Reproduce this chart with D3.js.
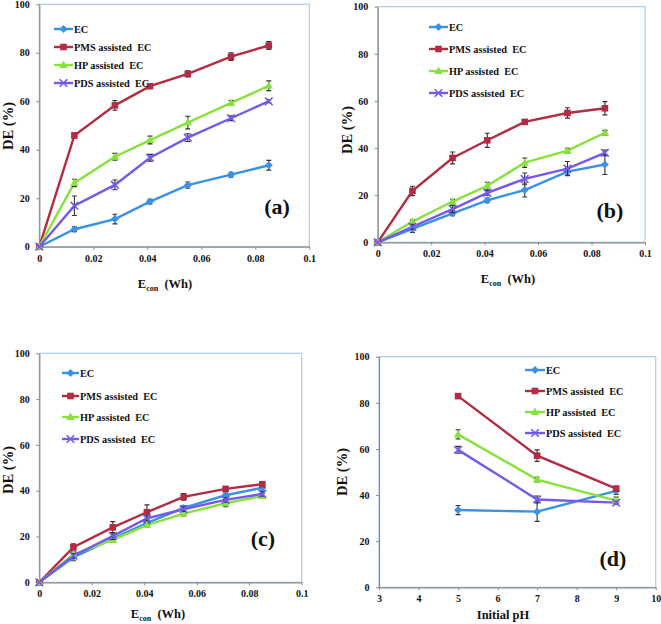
<!DOCTYPE html>
<html><head><meta charset="utf-8">
<script src="https://cdn.jsdelivr.net/npm/d3@7"></script>
<style>body{margin:0;background:#fff}svg{display:block}text{font-family:"Liberation Serif","Times New Roman",serif;font-weight:bold;fill:#111}</style>
</head><body><svg id="c" width="661" height="624"></svg>
<script>
const seriesNames = ["EC", "PMS assisted  EC", "HP assisted  EC", "PDS assisted  EC"];
const colors = ["#3a92e6", "#b22c44", "#88e23c", "#7459ee"];
const xEnergy = [0, 0.013, 0.028, 0.041, 0.055, 0.071, 0.085];
const xPH = [5, 7, 9];
const energyTicks = [0, 0.02, 0.04, 0.06, 0.08, 0.1];
const energyTickLabels = ["0", "0.02", "0.04", "0.06", "0.08", "0.1"];
const phTicks = [3, 4, 5, 6, 7, 8, 9, 10];
const deTicks = [0, 20, 40, 60, 80, 100];

// panel (a)
const aEC  = [0, 7.2, 11.4, 18.6, 25.4, 29.7, 33.6];
const aPMS = [0, 45.9, 58.3, 66.2, 71.3, 78.4, 83.0];
const aHP  = [0, 26.3, 37.1, 44.0, 51.2, 59.3, 66.4];
const aPDS = [0, 16.9, 25.5, 36.7, 45.0, 53.0, 60.0];
const aECe  = [0, 1.0, 2.0, 1.0, 1.3, 1.0, 2.0];
const aPMSe = [0, 1.0, 2.0, 0.6, 1.3, 1.6, 1.6];
const aHPe  = [0, 1.5, 1.4, 1.6, 2.6, 1.0, 2.0];
const aPDSe = [0, 4.0, 2.0, 1.4, 1.6, 1.0, 0.6];
// panel (b)
const bEC  = [0, 5.7, 12.3, 17.8, 22.2, 30.0, 33.0];
const bPMS = [0, 21.8, 35.8, 43.3, 51.1, 54.9, 56.9];
const bHP  = [0, 8.8, 17.3, 24.0, 33.8, 38.9, 46.5];
const bPDS = [0, 6.6, 14.1, 21.0, 26.9, 31.3, 38.0];
const bECe  = [0, 1.5, 1.0, 1.0, 3.0, 1.5, 4.2];
const bPMSe = [0, 2.0, 2.5, 3.0, 1.0, 2.2, 2.8];
const bHPe  = [0, 0.6, 1.0, 1.5, 2.0, 1.0, 1.0];
const bPDSe = [0, 1.0, 1.5, 1.0, 2.5, 3.0, 1.2];
// panel (c)
const cEC  = [0, 10.9, 19.1, 25.8, 32.5, 38.0, 41.3];
const cPMS = [0, 15.3, 24.0, 30.6, 37.3, 40.8, 42.8];
const cHP  = [0, 12.2, 18.5, 25.0, 30.0, 34.5, 37.7];
const cPDS = [0, 11.6, 20.2, 27.9, 31.9, 36.0, 38.6];
const cECe  = [0, 1.5, 1.0, 1.0, 1.0, 1.0, 1.0];
const cPMSe = [0, 1.5, 2.5, 3.2, 1.5, 1.0, 0.6];
const cHPe  = [0, 1.0, 1.0, 1.0, 1.0, 1.5, 1.0];
const cPDSe = [0, 1.0, 1.5, 1.0, 1.0, 1.0, 1.0];
// panel (d)
const dEC  = [33.5, 32.8, 41.8];
const dPMS = [82.9, 57.1, 42.8];
const dHP  = [66.3, 46.7, 37.6];
const dPDS = [59.6, 38.1, 36.7];
const dECe  = [2.0, 4.2, 1.5];
const dPMSe = [0.6, 2.5, 1.0];
const dHPe  = [2.0, 1.0, 1.5];
const dPDSe = [1.5, 1.5, 0.6];

const svg = d3.select("#c");
const markers = ["diamond", "square", "triangle", "x"];

function drawMarker(g, type, x, y, color) {
  if (type === "diamond") g.append("path").attr("d", `M${x},${y-4}L${x+4},${y}L${x},${y+4}L${x-4},${y}Z`).attr("fill", color);
  else if (type === "square") g.append("rect").attr("x", x-3.3).attr("y", y-3.3).attr("width", 6.6).attr("height", 6.6).attr("fill", color);
  else if (type === "triangle") g.append("path").attr("d", `M${x},${y-4.5}L${x+4.2},${y+3}L${x-4.2},${y+3}Z`).attr("fill", color);
  else g.append("path").attr("d", `M${x-3.8},${y-3.8}L${x+3.8},${y+3.8}M${x-3.8},${y+3.8}L${x+3.8},${y-3.8}`).attr("stroke", color).attr("stroke-width", 1.6);
}

function panel(cfg) {
  const g = svg.append("g");
  const x = d3.scaleLinear().domain(cfg.xDomain).range([cfg.x0, cfg.x1]);
  const y = d3.scaleLinear().domain([0, 100]).range([cfg.y0, cfg.y1]);
  // frame
  g.append("rect").attr("x", cfg.x0).attr("y", cfg.y1).attr("width", cfg.x1 - cfg.x0).attr("height", cfg.y0 - cfg.y1)
    .attr("fill", "none").attr("stroke", "#a9cbea").attr("stroke-width", 1.2);
  // axes
  const xa = g.append("g").attr("transform", `translate(0,${cfg.y0})`)
    .call(d3.axisBottom(x).tickValues(cfg.xTicks).tickFormat((d, i) => cfg.xLabels[i]).tickSize(3).tickSizeOuter(0));
  const ya = g.append("g").attr("transform", `translate(${cfg.x0},0)`)
    .call(d3.axisLeft(y).tickValues(deTicks).tickSize(3).tickSizeOuter(0));
  [xa, ya].forEach(a => {
    a.select(".domain").attr("stroke", "#8a8a8a").attr("stroke-width", 1.2);
    a.selectAll(".tick line").attr("stroke", "#8a8a8a");
    a.selectAll(".tick text").attr("font-size", 10).attr("fill", "#111").attr("font-family", "Liberation Serif").attr("font-weight", "bold");
  });
  xa.selectAll(".tick text").attr("dy", "0.9em");
  ya.selectAll(".tick text").attr("dx", "-0.35em");
  // series
  cfg.series.forEach((s, i) => {
    const line = d3.line().x((d, j) => x(cfg.xs[j])).y(d => y(d.v));
    g.append("path").datum(s).attr("d", line).attr("fill", "none").attr("stroke", colors[i]).attr("stroke-width", 2.4);
  });
  cfg.series.forEach((s, i) => {
    s.forEach((p, j) => {
      const v = p.v, e = p.e;
      if (e > 0) {
        const xx = x(cfg.xs[j]);
        g.append("path").attr("d", `M${xx},${y(v+e)}V${y(v-e)}M${xx-2.5},${y(v+e)}H${xx+2.5}M${xx-2.5},${y(v-e)}H${xx+2.5}`)
          .attr("stroke", "#333").attr("stroke-width", 1.1).attr("fill", "none");
      }
    });
    s.forEach((p, j) => drawMarker(g, markers[i], x(cfg.xs[j]), y(p.v), colors[i]));
  });
  // legend
  seriesNames.forEach((n, i) => {
    const ly = cfg.leg.y[i];
    g.append("line").attr("x1", cfg.leg.x).attr("x2", cfg.leg.x + cfg.leg.w).attr("y1", ly).attr("y2", ly)
      .attr("stroke", colors[i]).attr("stroke-width", 2.4);
    drawMarker(g, markers[i], cfg.leg.x + cfg.leg.w / 2, ly, colors[i]);
    g.append("text").attr("x", cfg.leg.x + cfg.leg.w + 1).attr("y", ly).attr("dy", "0.35em")
      .attr("font-size", 10.3).style("white-space", "pre").attr("xml:space", "preserve").text(n);
  });
  // axis titles
  const xt = g.append("text").attr("x", cfg.xt[0]).attr("y", cfg.xt[1]).attr("text-anchor", "middle").attr("font-size", 12.5)
    .style("white-space", "pre").attr("xml:space", "preserve");
  if (cfg.energy) {
    xt.append("tspan").text("E");
    xt.append("tspan").attr("font-size", 8).attr("dy", 3).text("con");
    xt.append("tspan").attr("dy", -3).text("  (Wh)");
  } else xt.text("Initial pH");
  g.append("text").attr("transform", `translate(${cfg.yt[0]},${cfg.yt[1]}) rotate(-90)`).attr("text-anchor", "middle")
    .attr("font-size", 14.5).text("DE (%)");
  g.append("text").attr("x", cfg.lab[0]).attr("y", cfg.lab[1]).attr("text-anchor", "middle").attr("font-size", 22).text(cfg.label);
}

const mk = (vs, es) => vs.map((v, i) => v.map((vv, j) => ({v: vv, e: es[i][j]})));
panel({xDomain: [0, 0.1], x0: 39.3, x1: 309.3, y0: 246.7, y1: 4.3, xs: xEnergy, xTicks: energyTicks, xLabels: energyTickLabels, energy: true,
  series: mk([aEC, aPMS, aHP, aPDS], [aECe, aPMSe, aHPe, aPDSe]),
  leg: {x: 54, w: 19, y: [29, 47, 65, 83]}, xt: [165, 288], yt: [13, 126], lab: [277, 214], label: "(a)"});
panel({xDomain: [0, 0.1], x0: 377.7, x1: 645, y0: 242.3, y1: 6.7, xs: xEnergy, xTicks: energyTicks, xLabels: energyTickLabels, energy: true,
  series: mk([bEC, bPMS, bHP, bPDS], [bECe, bPMSe, bHPe, bPDSe]),
  leg: {x: 429, w: 19, y: [27, 49, 71, 93]}, xt: [508, 283], yt: [352, 130], lab: [610, 218], label: "(b)"});
panel({xDomain: [0, 0.1], x0: 39.3, x1: 301.7, y0: 582.3, y1: 353.3, xs: xEnergy, xTicks: energyTicks, xLabels: energyTickLabels, energy: true,
  series: mk([cEC, cPMS, cHP, cPDS], [cECe, cPMSe, cHPe, cPDSe]),
  leg: {x: 62, w: 17, y: [373, 396, 417, 439]}, xt: [158, 618], yt: [13, 470], lab: [263, 546], label: "(c)"});
panel({xDomain: [3, 10], x0: 379, x1: 655.7, y0: 587.3, y1: 356.7, xs: xPH, xTicks: phTicks, xLabels: phTicks.map(String), energy: false,
  series: mk([dEC, dPMS, dHP, dPDS], [dECe, dPMSe, dHPe, dPDSe]),
  leg: {x: 525, w: 20, y: [370, 391, 412, 433]}, xt: [503, 619], yt: [347, 472], lab: [613, 566], label: "(d)"});
</script></body></html>
